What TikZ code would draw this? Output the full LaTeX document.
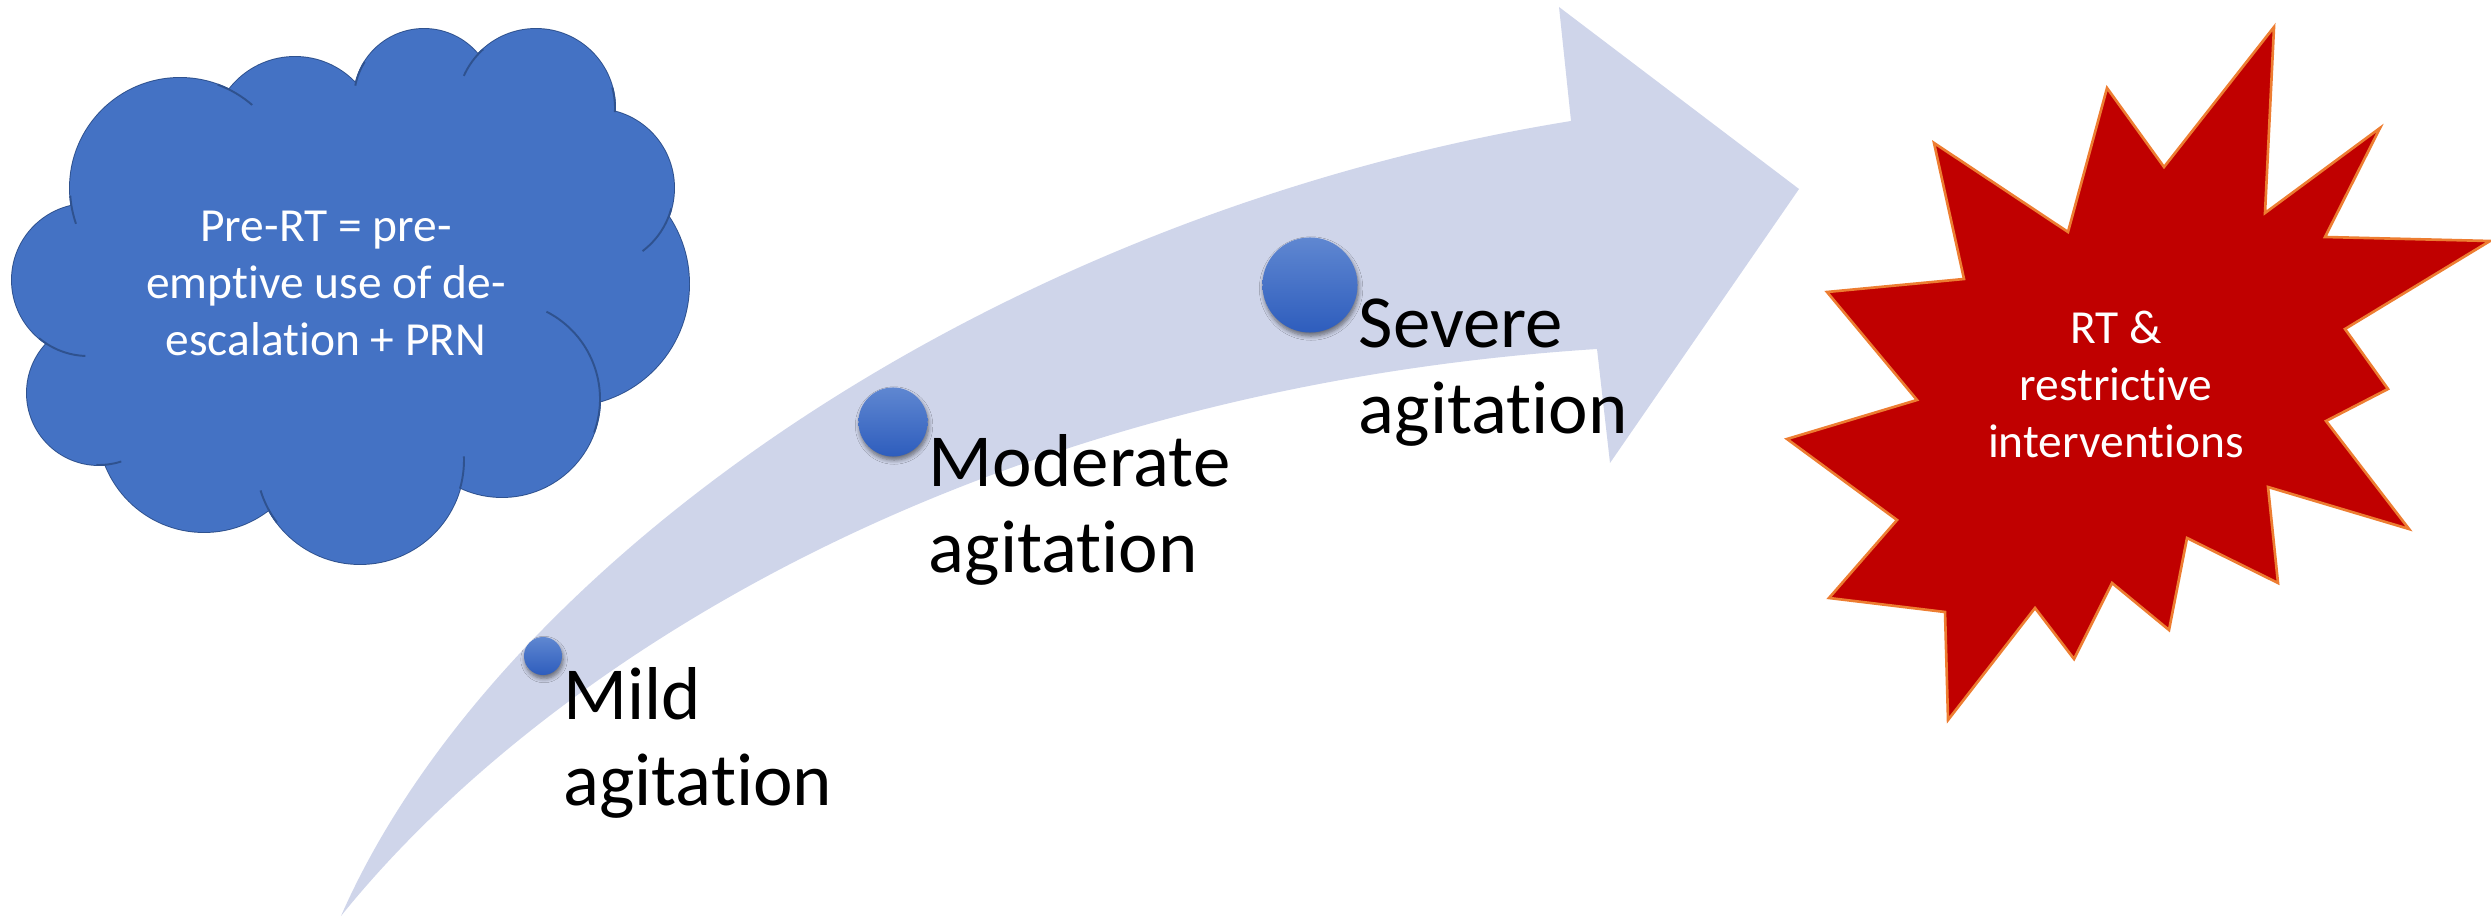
\documentclass[tikz,border=0pt]{standalone}
\usepackage{fontspec}
\setmainfont{Carlito}[Ligatures=NoCommon]
\usepackage{tikz}
\usepackage{xcolor}
\usetikzlibrary{shadows.blur, positioning}
\definecolor{arrowfill}{HTML}{CFD5EA}
\definecolor{cloudfill}{HTML}{4472C4}
\definecolor{cloudline}{HTML}{2F528F}
\definecolor{burstfill}{HTML}{C00000}
\definecolor{burstline}{HTML}{ED7D31}
\definecolor{dottop}{HTML}{5F87D1}
\definecolor{dotbot}{HTML}{2E5DBD}
\tikzstyle{dot} = [circle, inner sep=0pt, top color=dottop, bottom color=dotbot, blur shadow={shadow xshift=0.3pt, shadow yshift=-1pt, shadow blur radius=1.2pt, shadow blur steps=6, shadow opacity=50}]
\tikzstyle{stage} = [anchor=base west, inner sep=0pt, align=left, font=\fontsize{21.3pt}{24.2pt}\selectfont]
\tikzstyle{inside} = [anchor=base, inner sep=0pt, align=center, text=white, font=\fontsize{13.5pt}{16.3pt}\selectfont]
\tikzstyle{lobe} = [draw=cloudline, line width=0.55pt]
\tikzstyle{burst} = [draw=burstline, fill=burstfill, line width=0.75pt]

\begin{document}
\begin{tikzpicture}[x=0.01cm, y=-0.01cm]
    \useasboundingbox (0,0) rectangle (2491,916);

    % curved arrow
    \fill[arrowfill] (341,916) .. controls (495,565) and (990,215) .. (1571,121) -- (1559,7) -- (1799,189)
        -- (1610,463) -- (1597,349) .. controls (960,390) and (535,675) .. (341,916) -- cycle;

    % cloud: outlines first, then the fill covers the inner parts
    \foreach \cx/\cy/\r in {180/188/110, 295/140/83, 424/99/70, 536/108/79, 595/188/79, 567/284/122,
                           502/399/98, 360/460/104, 204/426/106, 99/393/72, 88/280/76}
        \draw[lobe] (\cx,\cy) circle[radius=\r];
    \fill[cloudfill] (350,290) ellipse[x radius=235, y radius=185];
    \foreach \cx/\cy/\r in {180/188/110, 295/140/83, 424/99/70, 536/108/79, 595/188/79, 567/284/122,
                           502/399/98, 360/460/104, 204/426/106, 99/393/72, 88/280/76}
        \fill[cloudfill] (\cx,\cy) circle[radius=\r];
    % inner strokes of the cloud
    \foreach \cx/\cy/\r/\a/\b in {180/188/110/-70/-49, 424/99/70/212/191, 536/108/79/228/204, 536/108/79/-15/3,
                                 595/188/79/15/53, 502/399/98/20/-63, 360/460/104/16/-2, 360/460/104/143/163,
                                 99/393/72/92/72, 88/280/76/130/92, 180/188/110/176/161}
        \draw[lobe] (\cx,\cy) ++(\a:\r) arc[start angle=\a, end angle=\b, radius=\r];
    % base of a multi-line node = its last line
    \node (pre) [inside] at (326,356) {Pre-RT = pre-\\emptive use of de-\\escalation + PRN};

    % stages
    \node (milddot) [dot, minimum size=0.38cm] at (543,656) {};
    \node (moddot) [dot, minimum size=0.69cm] at (893,422) {};
    \node (sevdot) [dot, minimum size=0.95cm] at (1310,285) {};
    \node (mild) [stage] at ([yshift=-1.49cm]milddot.east) {Mild\\agitation};
    \node (mod) [stage] at ([yshift=-1.5cm]moddot.east) {Moderate\\agitation};
    \node (sev) [stage] at ([yshift=-1.48cm]sevdot.east) {Severe\\agitation};

    % starburst
    \draw[burst] (2274,27) -- (2265,213) -- (2380,128) -- (2325,237) -- (2490,241) -- (2345,329)
        -- (2388,389) -- (2326,421) -- (2409,529) -- (2268,487) -- (2278,583) -- (2187,538)
        -- (2169,630) -- (2112,583) -- (2074,659) -- (2035,608) -- (1948,720) -- (1945,612)
        -- (1829,598) -- (1897,520) -- (1787,439) -- (1917,400) -- (1827,292) -- (1964,279)
        -- (1934,143) -- (2068,232) -- (2107,88) -- (2164,167) -- cycle;
    \node (rt) [inside] at (2116,458) {RT \&\\restrictive\\interventions};
\end{tikzpicture}
\end{document}
